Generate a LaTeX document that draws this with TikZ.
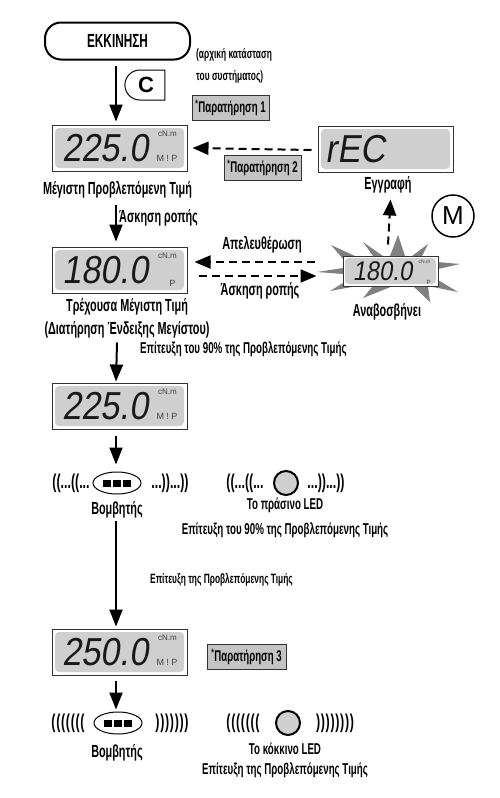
\documentclass[tikz,border=0pt]{standalone}
\usepackage{fontspec}
\setmainfont{Liberation Sans}[FakeStretch=0.62]
\setsansfont{Liberation Sans}
\newfontfamily\lcdfont{Liberation Sans}[FakeSlant=0.16,FakeStretch=0.88]
\usetikzlibrary{arrows.meta,shapes.misc,shapes.geometric}
\definecolor{lcdgray}{HTML}{CFCFCF}
\definecolor{notegray}{HTML}{C4C4C4}
\tikzset{
  flow/.style={line width=2pt,-{Triangle[length=17pt,width=13pt]}},
  dashflow/.style={line width=2pt,dash pattern=on 8pt off 5pt,-{Triangle[length=16pt,width=13pt]}},
  lcdframe/.style={rectangle,draw=black!80,line width=1pt,fill=white,minimum width=135pt,minimum height=46pt,inner sep=0pt},
  lcdscreen/.style={rectangle,rounded corners=4pt,fill=lcdgray,minimum width=129pt,minimum height=40pt,inner sep=0pt},
  lcddigits/.style={inner sep=0pt,text=black!90,font=\lcdfont\fontsize{39}{39}\selectfont},
  lcdunit/.style={inner sep=0pt,text=black!75,font=\sffamily\fontsize{8}{8}\selectfont},
  lcdflag/.style={inner sep=0pt,text=black!75,font=\sffamily\fontsize{9}{9}\selectfont},
  big/.style={inner sep=0pt,font=\bfseries\fontsize{17.5}{17.5}\selectfont},
  mid/.style={inner sep=0pt,font=\bfseries\fontsize{15.7}{15.7}\selectfont},
  small/.style={inner sep=0pt,font=\bfseries\fontsize{13.5}{13.5}\selectfont},
  wave/.style={inner sep=0pt,font=\bfseries\fontsize{20}{20}\selectfont},
  ripple/.style={inner sep=0pt,font=\bfseries\fontsize{20}{20}\selectfont\addfontfeature{LetterSpace=3.5}},
  notebox/.style={rectangle,draw=black!80,line width=1pt,fill=notegray,minimum height=25pt,inner sep=1pt,font=\bfseries\fontsize{15.5}{15.5}\selectfont},
  buzzer/.style={ellipse,draw,line width=1pt,minimum width=48pt,minimum height=22pt,inner sep=0pt},
  buzzdot/.style={rectangle,fill=black,minimum width=8pt,minimum height=7pt,inner sep=0pt},
  led/.style={circle,draw,line width=2pt,fill=lcdgray,minimum size=24pt,inner sep=0pt},
}
\begin{document}
\begin{tikzpicture}[x=1pt,y=-1pt]
\useasboundingbox (0,0) rectangle (499,798);

\node[rectangle,rounded corners=16pt,draw,line width=2pt,minimum width=145pt,minimum height=37pt,font=\bfseries\fontsize{19}{19}\selectfont] (start) at (117.5,41) {ΕΚΚΙΝΗΣΗ};
\node[rounded rectangle,rounded rectangle right arc=none,draw,line width=1pt,minimum width=40pt,minimum height=30pt,inner sep=0pt,font=\sffamily\bfseries\fontsize{22}{22}\selectfont] (ckey) at (146,85) {C};
\node[small,anchor=west] (init1) at (196,55) {(αρχική κατάσταση};
\node[small,anchor=west] (init2) at (196,77) {του συστήματος)};
\node[notebox,minimum width=77pt] (note1) at (230.5,107.5) {\textsuperscript{*}Παρατήρηση 1};

% first display
\node[lcdframe] (lcd1) at (119.5,148) {};
\node[lcdscreen] (scr1) at (lcd1) {};
\node[lcddigits] (val1) at ([xshift=-14pt]lcd1.center) {225.0};
\node[lcdunit] (unit1) at ([xshift=48pt,yshift=14pt]lcd1.center) {cN.m};
\node[lcdflag] (flag1) at ([xshift=47.5pt,yshift=-10pt]lcd1.center) {M ! P};
\node[big] (cap1) at (117.5,190) {Μέγιστη Προβλεπόμενη Τιμή};
\node[big,anchor=west] (lab1) at (119,218) {Άσκηση ροπής};

% rec display
\node[lcdframe] (rec) at (385.5,149) {};
\node[lcdscreen] (scr2) at (rec) {};
\node[lcddigits] (val2) at ([xshift=-30pt]rec.center) {rEC};
\node[big] (cap2) at (388,185) {Εγγραφή};
\node[notebox,minimum width=77pt] (note2) at (262.5,167.5) {\textsuperscript{*}Παρατήρηση 2};
\node[circle,draw,line width=1.5pt,minimum size=42pt,inner sep=0pt,font=\sffamily\fontsize{26}{26}\selectfont] (mkey) at (453,216) {M};

% second display
\node[lcdframe] (lcd2) at (119.5,270) {};
\node[lcdscreen] (scr3) at (lcd2) {};
\node[lcddigits] (val3) at ([xshift=-14pt]lcd2.center) {180.0};
\node[lcdunit] (unit3) at ([xshift=48pt,yshift=14pt]lcd2.center) {cN.m};
\node[lcdflag] (flag3) at ([xshift=53pt,yshift=-13pt]lcd2.center) {P};
\node[big] (cap3) at (127,307) {Τρέχουσα Μέγιστη Τιμή};
\node[big] (cap4) at (127,330) {(Διατήρηση Ένδειξης Μεγίστου)};
\node[mid,anchor=west] (lab2) at (140,349) {Επίτευξη του 90\% της Προβλεπόμενης Τιμής};
\node[big] (lab3) at (262,245) {Απελευθέρωση};
\node[big] (lab4) at (260,291) {Άσκηση ροπής};

% flashing display
\fill[black!50] (317,272)--(343,268)--(343,259)--(331,245)--(355,256)--(373,256)--(363,242)--(383,256)--(390,256)--(398,235)--(405,256)--(412,256)--(428,244)--(422,256)--(438,262)--(460,264)--(438,269)--(438,280)--(458,292)--(428,286)--(430,302)--(413,286)--(393,286)--(363,298)--(373,286)--(357,286)--(330,291)--(343,283)--(343,274)--cycle;
\node[lcdframe,minimum width=95pt,minimum height=30pt] (flash) at (390.5,271) {};
\node[lcdscreen,minimum width=91pt,minimum height=26pt] (scr4) at (flash) {};
\node[lcddigits,font=\lcdfont\fontsize{27}{27}\selectfont] (val4) at ([xshift=-8pt]flash.center) {180.0};
\node[lcdunit,font=\sffamily\fontsize{5}{5}\selectfont] (unit4) at ([xshift=34pt,yshift=9pt]flash.center) {cN.m};
\node[lcdunit,font=\sffamily\fontsize{6}{6}\selectfont] (flag4) at ([xshift=38pt,yshift=-11pt]flash.center) {P};
\node[big] (cap5) at (387,312) {Αναβοσβήνει};

% third display
\node[lcdframe] (lcd3) at (119.5,406) {};
\node[lcdscreen] (scr5) at (lcd3) {};
\node[lcddigits] (val5) at ([xshift=-14pt]lcd3.center) {225.0};
\node[lcdunit] (unit5) at ([xshift=48pt,yshift=14pt]lcd3.center) {cN.m};
\node[lcdflag] (flag5) at ([xshift=47.5pt,yshift=-10pt]lcd3.center) {M ! P};

% first buzzer row
\node[wave] (wave1) at (71,483) {((...((...};
\node[buzzer] (buzz1) at (117,483) {};
\foreach \i/\d in {a/-10,b/0,c/10}
  \node[buzzdot] (dot1\i) at ([xshift=\d pt]buzz1.center) {};
\node[wave] (wave2) at (170,483) {...))...))};
\node[wave] (wave3) at (245,483) {((...((...};
\node[led] (led1) at (286,483) {};
\node[wave] (wave4) at (326,483) {...))...))};
\node[big] (cap6) at (117,510) {Βομβητής};
\node[mid] (cap7) at (285,505) {Το πράσινο LED};
\node[mid] (cap8) at (285,530) {Επίτευξη του 90\% της Προβλεπόμενης Τιμής};
\node[small,anchor=west] (lab5) at (150,580) {Επίτευξη της Προβλεπόμενης Τιμής};

% fourth display
\node[lcdframe] (lcd4) at (119.5,652) {};
\node[lcdscreen] (scr6) at (lcd4) {};
\node[lcddigits] (val6) at ([xshift=-14pt]lcd4.center) {250.0};
\node[lcdunit] (unit6) at ([xshift=48pt,yshift=14pt]lcd4.center) {cN.m};
\node[lcdflag] (flag6) at ([xshift=47.5pt,yshift=-10pt]lcd4.center) {M ! P};
\node[notebox,minimum width=79pt] (note3) at (246.5,656.5) {\textsuperscript{*}Παρατήρηση 3};

% second buzzer row
\node[ripple] (wave5) at (68,723) {(((((((};
\node[buzzer] (buzz2) at (118,723) {};
\foreach \i/\d in {a/-10,b/0,c/10}
  \node[buzzdot] (dot2\i) at ([xshift=\d pt]buzz2.center) {};
\node[ripple] (wave6) at (172,723) {)))))))};
\node[ripple] (wave7) at (243,723) {(((((((};
\node[led] (led2) at (288,723) {};
\node[ripple] (wave8) at (335,723) {))))))))};
\node[big] (cap9) at (117,753) {Βομβητής};
\node[mid] (cap10) at (285,749) {Το κόκκινο LED};
\node[mid] (cap11) at (285,770) {Επίτευξη της Προβλεπόμενης Τιμής};

\draw[flow] ([xshift=-1.5pt,yshift=-5pt]start.south) -- ([xshift=-3.5pt,yshift=3pt]lcd1.north);
\draw[flow] ([xshift=-1.5pt,yshift=-6pt]cap1.south) -- ([xshift=-3.5pt,yshift=5pt]lcd2.north);
\draw[flow] ([xshift=-10pt,yshift=-4pt]cap4.south) -- ([xshift=-3.5pt,yshift=1pt]lcd3.north);
\draw[flow] ([xshift=-3.5pt,yshift=-6pt]lcd3.south) -- ([xshift=-1pt,yshift=7pt]buzz1.north);
\draw[flow] ([yshift=-3pt,xshift=-1pt]cap6.south) -- ([xshift=-3.5pt,yshift=2pt]lcd4.north);
\draw[flow] ([xshift=-3.5pt,yshift=-5pt]lcd4.south) -- ([xshift=-2pt,yshift=2pt]buzz2.north);

\draw[dashflow] ([xshift=-6pt,yshift=-1pt]rec.west) -- ([xshift=5pt,yshift=0pt]lcd1.east);
\draw[dashflow] ([xshift=-28pt,yshift=9pt]flash.west) -- ([xshift=7pt,yshift=8pt]lcd2.east);
\draw[dashflow] ([xshift=11pt,yshift=-6pt]lcd2.east) -- ([xshift=-26pt,yshift=-5pt]flash.west);
\draw[dashflow] ([xshift=-2.5pt,yshift=11pt]flash.north) -- ([xshift=2.5pt,yshift=-6pt]cap2.south);
\end{tikzpicture}
\end{document}
